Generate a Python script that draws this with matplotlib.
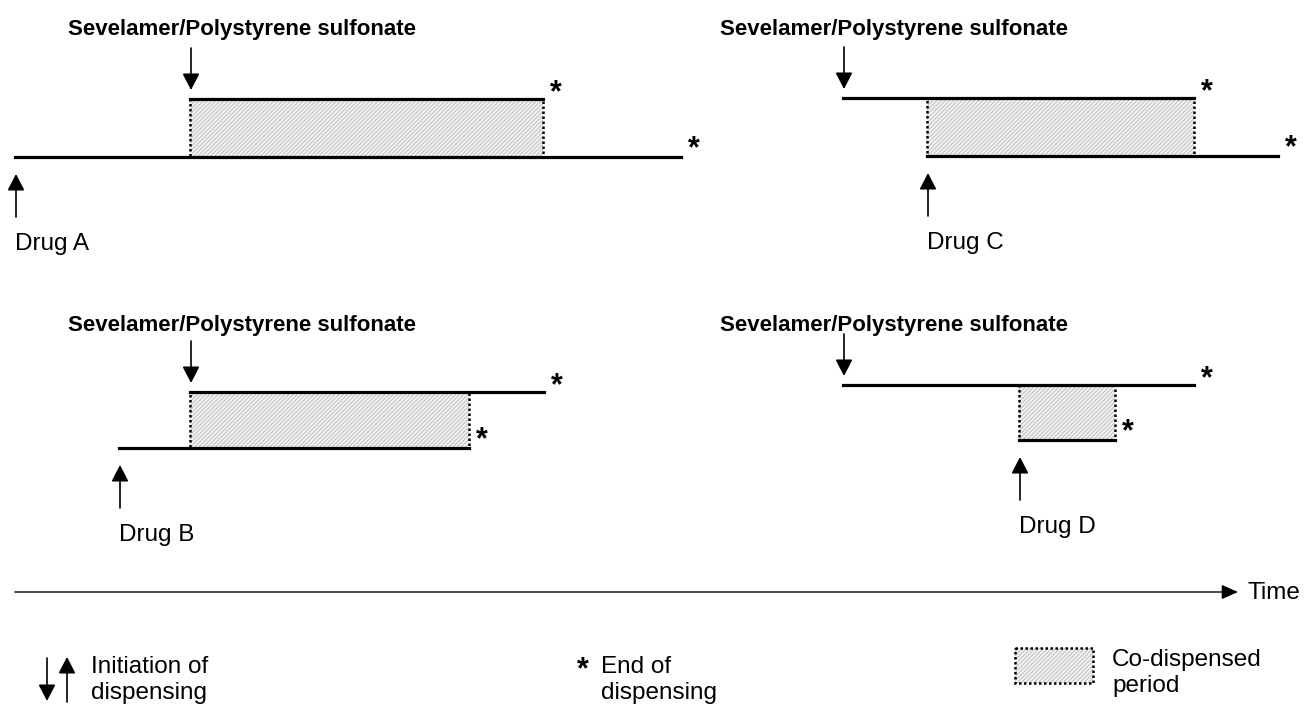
import numpy as np
import matplotlib.pyplot as plt
from matplotlib.patches import Rectangle

plt.rcParams['font.family'] = ['Liberation Sans', 'DejaVu Sans']
plt.rcParams['hatch.linewidth'] = 0.6

# schematic timing of each scenario (arbitrary time units)
panels = ['A', 'B', 'C', 'D']
drug_start = [15, 119, 927, 1019]
drug_end = [681, 469, 1278, 1115]
sev_start = [190, 190, 843, 843]
sev_end = [543, 544, 1194, 1194]
title = 'Sevelamer/Polystyrene sulfonate'

# layout (figure pixels)
sev_y = [99, 392, 98, 385]
drug_y = [157, 448, 156, 440]
title_x = [68, 68, 720, 720]
title_y = [30, 325, 30, 325]

fig = plt.figure(figsize=(13.15, 7.06), dpi=100)
ax = fig.add_axes([0, 0, 1, 1])
ax.set_xlim(0, 1315)
ax.set_ylim(706, 0)
ax.axis('off')

lw = 2.3
fs = 17.5
arr = dict(arrowstyle='-|>,head_length=0.5,head_width=0.26', color='black',
           lw=1.2, mutation_scale=20, shrinkA=0, shrinkB=0)


def codisp_box(x0, x1, y0, y1):
    # light hatch fill, then dotted outline on top
    ax.add_patch(Rectangle((x0, y0), x1 - x0, y1 - y0, facecolor='#f2f2f2',
                           edgecolor='#b8b8b8', hatch='////////', lw=0, zorder=2))
    ax.add_patch(Rectangle((x0, y0), x1 - x0, y1 - y0, facecolor='none',
                           edgecolor='black', lw=1.8, linestyle=(0, (1, 1)), zorder=2.5))


def star(x, y):
    ax.text(x, y, '*', fontsize=22, fontweight='bold', ha='center', va='center')


for i, p in enumerate(panels):
    sy, dy = sev_y[i], drug_y[i]
    ax.text(title_x[i], title_y[i], title, fontsize=16, fontweight='bold', va='center')
    # sevelamer line
    ax.plot([sev_start[i], sev_end[i]], [sy, sy], color='black', lw=lw, zorder=3)
    # drug line
    ax.plot([drug_start[i], drug_end[i]], [dy, dy], color='black', lw=lw, zorder=3)
    # overlap
    x0 = max(sev_start[i], drug_start[i])
    x1 = min(sev_end[i], drug_end[i])
    codisp_box(x0, x1, sy, dy)
    # initiation arrows
    ax.annotate('', xy=(sev_start[i] + 1, sy - 9), xytext=(sev_start[i] + 1, sy - 51), arrowprops=arr)
    ax.annotate('', xy=(drug_start[i] + 1, dy + 17), xytext=(drug_start[i] + 1, dy + 60), arrowprops=arr)
    ax.text(drug_start[i], dy + 87, 'Drug ' + p, fontsize=fs, va='center')
    # end markers
    star(sev_end[i] + 13, sy - 6)
    star(drug_end[i] + 13, dy - 8)

# time axis
ax.annotate('', xy=(1238, 592), xytext=(15, 592),
            arrowprops=dict(arrowstyle='-|>,head_length=0.5,head_width=0.22', color='black',
                            lw=1.0, mutation_scale=20, shrinkA=0, shrinkB=0))
ax.text(1248, 593, 'Time', fontsize=fs, va='center')

# legend
ax.annotate('', xy=(47, 701), xytext=(47, 658), arrowprops=arr)
ax.annotate('', xy=(67, 657), xytext=(67, 702), arrowprops=arr)
ax.text(91, 680, 'Initiation of\ndispensing', fontsize=fs, va='center', linespacing=1.2)
star(583, 670)
ax.text(601, 680, 'End of\ndispensing', fontsize=fs, va='center', linespacing=1.2)
codisp_box(1015, 1093, 648, 683)
ax.text(1112, 673, 'Co-dispensed\nperiod', fontsize=fs, va='center', linespacing=1.2)

plt.savefig('out.png', dpi=100)
